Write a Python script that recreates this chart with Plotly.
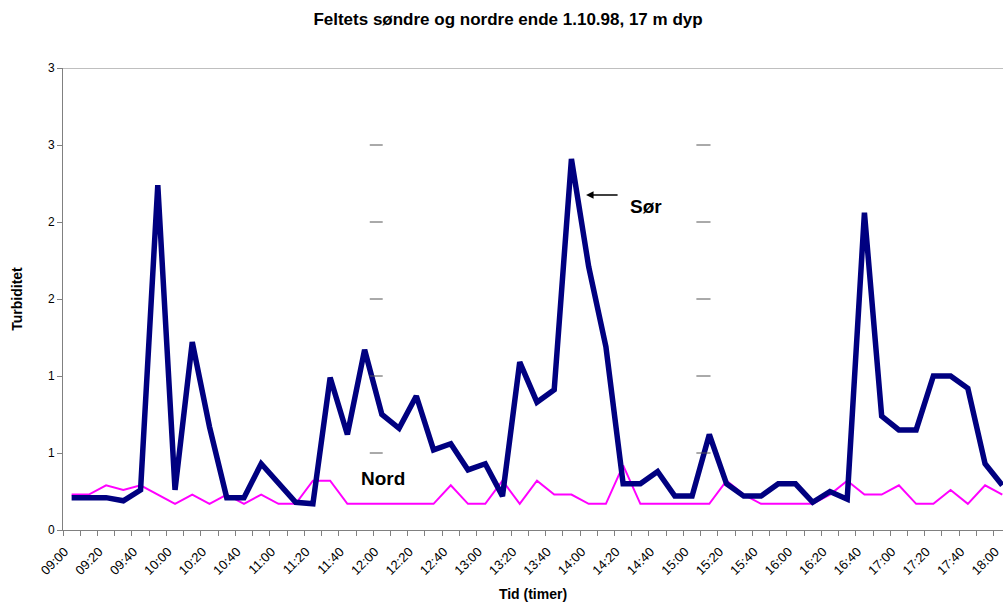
import plotly.graph_objects as go

# ---- data ----
times = ["09:00","09:10","09:20","09:30","09:40","09:50","10:00","10:10","10:20","10:30",
         "10:40","10:50","11:00","11:10","11:20","11:30","11:40","11:50","12:00","12:10",
         "12:20","12:30","12:40","12:50","13:00","13:10","13:20","13:30","13:40","13:50",
         "14:00","14:10","14:20","14:30","14:40","14:50","15:00","15:10","15:20","15:30",
         "15:40","15:50","16:00","16:10","16:20","16:30","16:40","16:50","17:00","17:10",
         "17:20","17:30","17:40","17:50","18:00"]

sor = [0.21,0.21,0.21,0.19,0.26,2.24,0.26,1.22,0.67,0.21,
       0.21,0.43,0.30,0.18,0.17,0.99,0.62,1.17,0.75,0.66,
       0.87,0.52,0.56,0.39,0.43,0.22,1.09,0.83,0.91,2.41,
       1.71,1.19,0.30,0.30,0.38,0.22,0.22,0.62,0.30,0.22,
       0.22,0.30,0.30,0.18,0.25,0.20,2.06,0.74,0.65,0.65,
       1.00,1.00,0.92,0.43,0.29]

nord = [0.23,0.23,0.29,0.26,0.29,0.23,0.17,0.23,0.17,0.23,
        0.17,0.23,0.17,0.17,0.32,0.32,0.17,0.17,0.17,0.17,
        0.17,0.17,0.29,0.17,0.17,0.32,0.17,0.32,0.23,0.23,
        0.17,0.17,0.42,0.17,0.17,0.17,0.17,0.17,0.32,0.23,
        0.17,0.17,0.17,0.17,0.23,0.32,0.23,0.23,0.29,0.17,
        0.17,0.26,0.17,0.29,0.23]

ytick_vals = [0, 0.5, 1, 1.5, 2, 2.5, 3]
ytick_text = ["0", "1", "1", "2", "2", "3", "3"]

# stray gridline fragments seen inside the plot (category index spans)
frag_spans = [(17.3, 18.05), (36.25, 37.07)]
frag_levels = [0.5, 1.0, 1.5, 2.0, 2.5]

FONT = "Liberation Sans, Arial, sans-serif"
idx = list(range(len(times)))
XRANGE = [-0.5, 54.04]

W, H = 1003, 606
L, R, T, B = 63, 0, 68, 76
pw, ph = W - L - R, H - T - B

def px_to_paper(px, py):
    return (px - L) / pw, (H - B - py) / ph

fig = go.Figure()
fig.add_trace(go.Scatter(x=idx, y=nord, mode="lines", name="Nord",
                         line=dict(color="#FF00FF", width=2)))
fig.add_trace(go.Scatter(x=idx, y=sor, mode="lines", name="Sør",
                         line=dict(color="#000080", width=5.5)))
# helper trace so the tick-mark axis (category boundaries) is drawn
fig.add_trace(go.Scatter(x=[0], y=[None], xaxis="x2", mode="lines",
                         showlegend=False, hoverinfo="skip"))

shapes = [dict(type="line", xref="paper", yref="y", x0=0, x1=1, y0=3, y1=3,
               line=dict(color="#808080", width=1))]
for (a, b) in frag_spans:
    for lv in frag_levels:
        shapes.append(dict(type="line", xref="x", yref="y", x0=a, x1=b, y0=lv, y1=lv,
                           line=dict(color="#555555", width=1)))

sx, sy = px_to_paper(646, 194)
nx, ny = px_to_paper(383, 491)

fig.update_layout(
    width=W, height=H,
    margin=dict(l=L, r=R, t=T, b=B, autoexpand=False),
    paper_bgcolor="white", plot_bgcolor="white",
    showlegend=False,
    font=dict(family=FONT, size=12, color="black"),
    title=dict(text="<b>Feltets søndre og nordre ende 1.10.98, 17 m dyp</b>",
               x=508 / W, xanchor="center",
               y=1 - 19 / H, yanchor="middle",
               font=dict(family=FONT, size=17, color="black")),
    xaxis=dict(
        range=XRANGE, automargin=False,
        tickmode="array", tickvals=idx[::2], ticktext=times[::2],
        tickangle=-45, ticks="", showgrid=False, zeroline=False,
        ticklabeloverflow="allow", ticklabelshift=-7, ticklabelstandoff=8,
        showline=True, linecolor="#808080", linewidth=1,
        tickfont=dict(family=FONT, size=13, color="black"),
        title=dict(text="<b>Tid (timer)</b>", standoff=12,
                   font=dict(family=FONT, size=14, color="black")),
    ),
    xaxis2=dict(
        range=XRANGE, overlaying="x", anchor="y", side="bottom", automargin=False,
        tickmode="array", tickvals=[i - 0.5 for i in range(len(times) + 1)],
        ticks="outside", ticklen=5, tickcolor="#808080", tickwidth=1,
        showticklabels=False, showline=False, showgrid=False, zeroline=False,
    ),
    yaxis=dict(
        range=[0, 3.0], automargin=False,
        tickmode="array", tickvals=ytick_vals, ticktext=ytick_text,
        ticks="outside", ticklen=5, tickcolor="#808080",
        showgrid=False, zeroline=False,
        showline=True, linecolor="#808080", linewidth=1,
        tickfont=dict(family=FONT, size=12, color="black"),
        title=dict(text="<b>Turbiditet</b>", standoff=22,
                   font=dict(family=FONT, size=14, color="black")),
    ),
    shapes=shapes,
    annotations=[
        dict(x=29.85, y=2.175, xref="x", yref="y", text="", showarrow=True,
             ax=33, ay=0, arrowhead=2, arrowsize=1, arrowwidth=1.5, arrowcolor="black"),
        dict(x=sx, y=sy, xref="paper", yref="paper", text="<b>Sør</b>", showarrow=False,
             font=dict(family=FONT, size=19, color="black")),
        dict(x=nx, y=ny, xref="paper", yref="paper", text="<b>Nord</b>", showarrow=False,
             font=dict(family=FONT, size=19, color="black")),
    ],
)

fig.write_html(
    "out.html",
    config={"displayModeBar": False},
    post_script="document.body.style.margin='0';"
                "document.documentElement.style.overflow='hidden';"
                "document.body.style.overflow='hidden';",
)
